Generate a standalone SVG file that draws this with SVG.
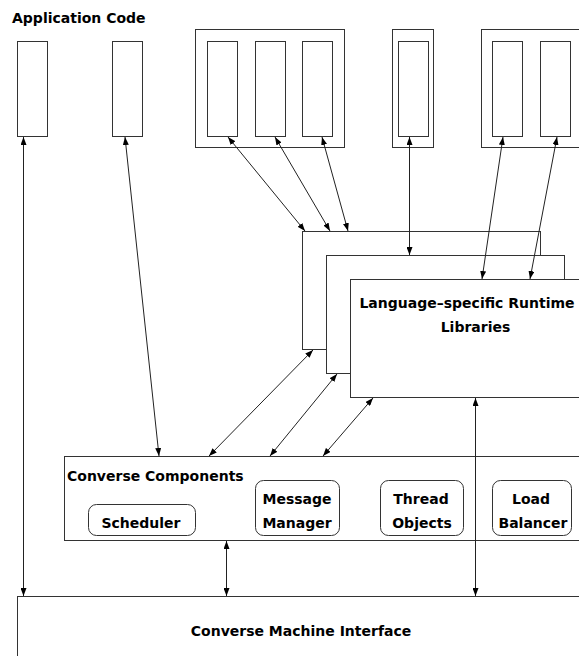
<svg xmlns="http://www.w3.org/2000/svg" width="579" height="656" viewBox="0 0 579 656">
<defs>
<style>
.b{fill:#fff;stroke:#333;stroke-width:1}
.t{font-family:"DejaVu Sans","Liberation Sans",sans-serif;font-weight:bold;font-size:14px;fill:#000}
.m{text-anchor:middle}
.c{fill:none;stroke:#222;stroke-width:1;marker-start:url(#ah);marker-end:url(#ah)}
</style>
<marker id="ah" viewBox="0 0 8 6" refX="8" refY="3" markerWidth="8" markerHeight="6" markerUnits="userSpaceOnUse" orient="auto-start-reverse">
<path d="M0,0 L8,3 L0,6 Z" fill="#000"/>
</marker>
</defs>
<rect x="0" y="0" width="579" height="656" fill="#fff"/>
<text class="t" x="12" y="23">Application Code</text>
<g id="app1"><rect class="b" x="17.5" y="41.5" width="30" height="95"/></g>
<g id="app2"><rect class="b" x="112.5" y="41.5" width="30" height="95"/></g>
<g id="appgroup1">
<rect class="b" x="195.5" y="29.5" width="149" height="118"/>
<rect class="b" x="207.5" y="41.5" width="30" height="95"/>
<rect class="b" x="255.5" y="41.5" width="30" height="95"/>
<rect class="b" x="302.5" y="41.5" width="30" height="95"/>
</g>
<g id="appgroup2">
<rect class="b" x="392.5" y="29.5" width="41" height="118"/>
<rect class="b" x="398.5" y="41.5" width="30" height="95"/>
</g>
<g id="appgroup3">
<rect class="b" x="481.5" y="29.5" width="110" height="118"/>
<rect class="b" x="492.5" y="41.5" width="30" height="95"/>
<rect class="b" x="540.5" y="41.5" width="30" height="95"/>
</g>
<g id="runtime">
<rect class="b" x="302.5" y="231.5" width="238" height="118"/>
<rect class="b" x="326.5" y="255.5" width="238" height="118"/>
<rect class="b" x="350.5" y="279.5" width="240" height="118"/>
<text class="t m" x="467" y="308">Language–specific Runtime</text>
<text class="t m" x="475.5" y="332">Libraries</text>
</g>
<g id="components">
<rect class="b" x="64.5" y="456.5" width="530" height="84"/>
<text class="t" x="67" y="481">Converse Components</text>
</g>
<g id="scheduler">
<rect class="b" x="88.5" y="504.5" width="107" height="31" rx="8"/>
<text class="t m" x="141" y="528">Scheduler</text>
</g>
<g id="msgmgr">
<rect class="b" x="255.5" y="480.5" width="84" height="55" rx="8"/>
<text class="t m" x="297" y="504">Message</text>
<text class="t m" x="297" y="528">Manager</text>
</g>
<g id="thread">
<rect class="b" x="380.5" y="480.5" width="83" height="55" rx="8"/>
<text class="t m" x="421" y="504">Thread</text>
<text class="t m" x="422" y="528">Objects</text>
</g>
<g id="lb">
<rect class="b" x="492.5" y="480.5" width="79" height="55" rx="8"/>
<text class="t m" x="531" y="504">Load</text>
<text class="t m" x="533" y="528">Balancer</text>
</g>
<g id="cmi">
<rect class="b" x="17.5" y="596.5" width="600" height="100"/>
<text class="t m" x="301" y="636">Converse Machine Interface</text>
</g>
<g id="connectors">
<line class="c" x1="23.5" y1="137" x2="23.5" y2="596"/>
<line class="c" x1="125" y1="137" x2="159" y2="456"/>
<line class="c" x1="228" y1="137" x2="305" y2="231"/>
<line class="c" x1="275" y1="137" x2="330" y2="231"/>
<line class="c" x1="322" y1="137" x2="348" y2="231"/>
<line class="c" x1="409.5" y1="137" x2="409.5" y2="255"/>
<line class="c" x1="503" y1="137" x2="482" y2="279"/>
<line class="c" x1="557" y1="137" x2="530" y2="279"/>
<line class="c" x1="313" y1="350" x2="209" y2="456"/>
<line class="c" x1="337" y1="374" x2="270" y2="456"/>
<line class="c" x1="373" y1="398" x2="323" y2="456"/>
<line class="c" x1="226.5" y1="541" x2="226.5" y2="596"/>
<line class="c" x1="475.5" y1="398" x2="475.5" y2="596"/>
</g>
</svg>
